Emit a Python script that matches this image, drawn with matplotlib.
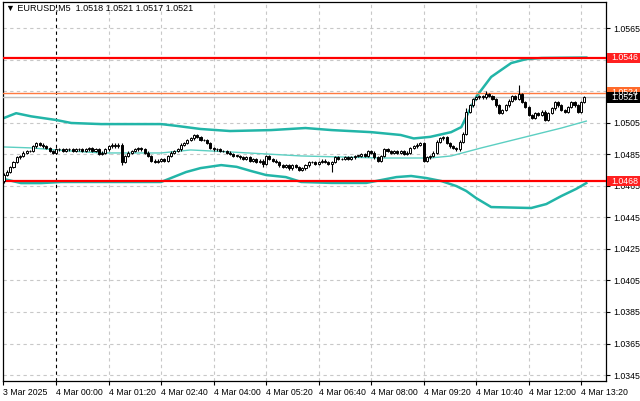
import numpy as np
import matplotlib
matplotlib.use('Agg')
import matplotlib.pyplot as plt
from matplotlib.patches import Rectangle

# EURUSD M5 - zamkniecia swiec
zamkniecia = [
    1.0472, 1.0474, 1.0477, 1.0480, 1.0483, 1.0484, 1.0486, 1.0487, 1.0487, 1.0490,
    1.0492, 1.0491, 1.0490, 1.0489, 1.0487, 1.0486, 1.0488, 1.0488, 1.0487, 1.0488,
    1.0488, 1.0487, 1.0488, 1.0488, 1.0487, 1.0488, 1.0489, 1.0487, 1.0488, 1.0485,
    1.0486, 1.0488, 1.0490, 1.0491, 1.0490, 1.0491, 1.0480, 1.0484, 1.0486, 1.0487,
    1.0488, 1.0489, 1.0488, 1.0486, 1.0484, 1.0481, 1.0480, 1.0481, 1.0482, 1.0481,
    1.0484, 1.0486, 1.0487, 1.0488, 1.0491, 1.0492, 1.0494, 1.0495, 1.0497, 1.0496,
    1.0494, 1.0494, 1.0492, 1.0489, 1.0488, 1.0488, 1.0487, 1.0487, 1.0486, 1.0485,
    1.0484, 1.0484, 1.0483, 1.0482, 1.0483, 1.0481, 1.0482, 1.0480, 1.0481, 1.0479,
    1.0484, 1.0482, 1.0481, 1.0480, 1.0478, 1.0477, 1.0478, 1.0476, 1.0478, 1.0477,
    1.0475, 1.0476, 1.0478, 1.0480, 1.0480, 1.0479, 1.0480, 1.0481, 1.0480, 1.0479,
    1.0480, 1.0483, 1.0482, 1.0482, 1.0483, 1.0482, 1.0483, 1.0484, 1.0484, 1.0485,
    1.0484, 1.0487, 1.0486, 1.0483, 1.0481, 1.0484, 1.0488, 1.0487, 1.0486, 1.0487,
    1.0486, 1.0487, 1.0485, 1.0486, 1.0489, 1.0490, 1.0491, 1.0492, 1.0481, 1.0483,
    1.0484, 1.0486, 1.0493, 1.0495, 1.0496, 1.0492, 1.0490, 1.0489, 1.0488, 1.0493,
    1.0498, 1.0512, 1.0516, 1.0520, 1.0521, 1.0522, 1.0521, 1.0523, 1.0522, 1.0520,
    1.0516, 1.0511, 1.0513, 1.0516, 1.0519, 1.0522, 1.0520, 1.0523, 1.0518, 1.0515,
    1.0510, 1.0508, 1.0511, 1.0510, 1.0512, 1.0507, 1.0511, 1.0514, 1.0518, 1.0516,
    1.0513, 1.0512, 1.0515, 1.0518, 1.0516, 1.0512, 1.0518, 1.0521,
]
pierwsze_otwarcie = 1.0468
# wyrazniejsze knoty
knoty_gora = {141: 1.0514, 157: 1.0529, 147: 1.0525, 58: 1.0498}
knoty_dol = {36: 1.0478, 100: 1.0474, 128: 1.0480, 0: 1.0467, 79: 1.0477}

# wstegi Bollingera (indeks swiecy, cena)
gorna_x = [0, 3.8, 8.4, 16, 20.6, 29.7, 48, 52.6, 60, 69, 81.5, 92, 100, 112, 121, 125, 130,
           136.4, 139.5, 141, 144, 148.6, 154.7, 159.3, 164, 177.6]
gorna_y = [1.05079, 1.0511, 1.0509, 1.05067, 1.05048, 1.05041, 1.05041, 1.0503, 1.0501,
           1.04997, 1.05003, 1.05016, 1.05003, 1.0499, 1.04972, 1.0495, 1.0496, 1.0499,
           1.05022, 1.05086, 1.05213, 1.0534, 1.05428, 1.05453, 1.0546, 1.05463]
dolna_x = [0, 5.3, 11.4, 17.5, 48, 51, 55.6, 60, 66.3, 71, 75.5, 80, 86, 90.7, 100, 110.5,
           115, 119.7, 124.2, 128.8, 133.4, 138, 141, 144, 148.6, 160.8, 165.4, 170, 174.5, 177.6]
dolna_y = [1.04693, 1.04667, 1.04667, 1.04674, 1.04674, 1.04699, 1.04737, 1.04762, 1.04781,
           1.0477, 1.04743, 1.04718, 1.04705, 1.04674, 1.04668, 1.04668, 1.04686, 1.04705,
           1.04712, 1.04699, 1.0468, 1.04648, 1.04617, 1.04572, 1.04515, 1.04509, 1.04534,
           1.04585, 1.0463, 1.04667]
srodek_x = [0, 8.4, 16, 29.7, 48, 57, 69.4, 90.7, 115, 130, 136.4, 145.6, 157.8, 170, 177.6]
srodek_y = [1.04896, 1.0489, 1.04877, 1.04858, 1.04858, 1.04877, 1.04864, 1.04839, 1.04826,
            1.04826, 1.04839, 1.0489, 1.04953, 1.05016, 1.0506]

opor = 1.0546
wsparcie = 1.0468
linia_pomaranczowa = 1.0524
bid = 1.0521

etykiety_x = ['3 Mar 2025', '4 Mar 00:00', '4 Mar 01:20', '4 Mar 02:40', '4 Mar 04:00',
              '4 Mar 05:20', '4 Mar 06:40', '4 Mar 08:00', '4 Mar 09:20', '4 Mar 10:40',
              '4 Mar 12:00', '4 Mar 13:20']
pozycje_x = [-0.2, 16, 32, 48, 64, 80, 96, 112, 128, 144, 160, 176]
ceny_osi = [1.0345, 1.0365, 1.0385, 1.0405, 1.0425, 1.0445, 1.0465, 1.0485, 1.0505,
            1.0525, 1.0545, 1.0565]
# te etykiety przykrywaja znaczniki cen
ukryte = [1.0525, 1.0545]

plt.rcParams['font.family'] = ['Liberation Sans', 'DejaVu Sans']

fig = plt.figure(figsize=(6.4, 4.01), dpi=100)
ax = fig.add_axes([3 / 640, 20 / 401, 603 / 640, 379 / 401])

zamkniecia = np.array(zamkniecia)
otwarcia = np.concatenate([[pierwsze_otwarcie], zamkniecia[:-1]])
otwarcia[-1] = 1.0518
idx = np.arange(len(zamkniecia))

# siatka
for p in ceny_osi:
    ax.axhline(p, color='#c8c8c8', lw=0.8, ls=(0, (3, 3)), zorder=0)
for px in pozycje_x[1:]:
    kol = 'black' if px == 16 else '#c8c8c8'
    ax.axvline(px, color=kol, lw=0.8, ls=(0, (3, 3)), zorder=0)

# wstegi
kolor_wstegi = '#22b5a8'
ax.plot(gorna_x, gorna_y, color=kolor_wstegi, lw=1.8, zorder=2)
ax.plot(dolna_x, dolna_y, color=kolor_wstegi, lw=1.8, zorder=2)
ax.plot(srodek_x, srodek_y, color='#5ccfc2', lw=1.0, zorder=2)

# linie poziome
ax.axhline(opor, color='#ff0000', lw=1.6, zorder=3)
ax.axhline(wsparcie, color='#ff0000', lw=1.6, zorder=3)
ax.axhline(linia_pomaranczowa, color='#ff7a40', lw=1.0, zorder=3)
ax.axhline(bid, color='#c0c0c0', lw=1.0, zorder=3)

# swiece
for i in idx:
    o, c = otwarcia[i], zamkniecia[i]
    hi = knoty_gora.get(i, max(o, c) + 0.00008)
    lo = knoty_dol.get(i, min(o, c) - 0.00008)
    ax.vlines(i, lo, hi, color='black', lw=0.8, zorder=4)
    h = max(abs(c - o), 0.00002)
    ax.bar(i, h, bottom=min(o, c), width=0.62, color='white' if c >= o else 'black',
           edgecolor='black', linewidth=0.7, zorder=5)

ax.set_xlim(-0.2, 183.6)
ax.set_ylim(1.034123, 1.05815)

ax.set_xticks(pozycje_x)
ax.set_xticklabels(etykiety_x, fontsize=6.3, ha='left')
ax.set_yticks(ceny_osi)
ax.set_yticklabels(['' if p in ukryte else f'{p:.4f}' for p in ceny_osi], fontsize=6.3)
ax.yaxis.tick_right()
ax.tick_params(axis='both', length=3, width=0.8, direction='out', pad=2)
for s in ax.spines.values():
    s.set_color('black')
    s.set_linewidth(0.9)

# etykiety cen po prawej
tr = ax.get_yaxis_transform()
def etykieta(cena, tlo, tekst='white'):
    ax.add_patch(Rectangle((1.0015, cena - 0.00034), 0.06, 0.00068, transform=tr,
                           facecolor=tlo, edgecolor='none', clip_on=False, zorder=9))
    ax.text(1.009, cena, f'{cena:.4f}', transform=tr, fontsize=6.3,
            color=tekst, va='center', ha='left', zorder=10, clip_on=False)

etykieta(opor, '#ff2020')
etykieta(wsparcie, '#ff2020')
etykieta(linia_pomaranczowa, '#ff6a2a')
etykieta(bid, 'black')

fig.text(6 / 640, 1 - 8 / 401, '\u25bc EURUSD,M5  1.0518 1.0521 1.0517 1.0521', fontsize=6.5,
         va='center', ha='left')

fig.savefig('out.png', dpi=100)
